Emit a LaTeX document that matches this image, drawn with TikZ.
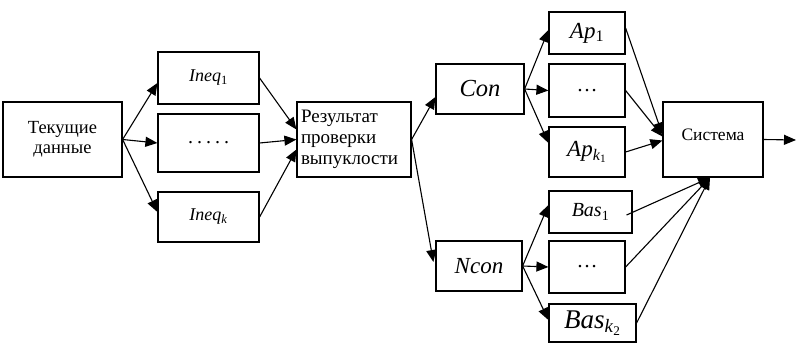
\documentclass[tikz,border=0pt]{standalone}
\usepackage{fontspec}
\setmainfont{Liberation Serif}
\usetikzlibrary{arrows.meta,calc}
\begin{document}
\begin{tikzpicture}[x=1pt,y=-1pt,
  box/.style={draw,line width=1.2pt,inner sep=0pt,align=center},
  arr/.style={line width=1.1pt,-{Triangle[length=12pt,width=10pt]}}]
\useasboundingbox (0,0) rectangle (796,343);
\newcommand{\sbs}[1]{\textsubscript{\upshape #1}}
% nodes
\node[box,minimum width=119pt,minimum height=75pt,font=\fontsize{18.5}{20}\selectfont] (td) at (62.5,139.5) {\raisebox{6pt}{\parbox{110pt}{\centering Текущие\\данные}}};
\node[box,minimum width=101pt,minimum height=52pt,font=\fontsize{18}{19}\selectfont] (i1) at (208.5,78) {\textit{Ineq}\sbs{1}};
\node[box,minimum width=101pt,minimum height=58pt,font=\fontsize{20}{20}\selectfont] (i2) at (208.5,143) {.\hspace{4pt}.\hspace{4pt}.\hspace{4pt}.\hspace{4pt}.};
\node[box,minimum width=101pt,minimum height=50pt,font=\fontsize{18}{19}\selectfont] (i3) at (208.5,217) {\textit{Ineq}\textsubscript{\textit{k}}};
\node[box,minimum width=114pt,minimum height=75pt,font=\fontsize{19}{21}\selectfont] (res) at (354,139.5) {\parbox{106pt}{\raggedright Результат\\проверки\\выпуклости}};
\node[box,minimum width=88pt,minimum height=50pt,font=\fontsize{24.5}{26}\selectfont] (con) at (480,89) {\textit{Con}};
\node[box,minimum width=86pt,minimum height=50pt,font=\fontsize{23}{25}\selectfont] (ncon) at (479,266) {\textit{Ncon}};
\node[box,minimum width=76pt,minimum height=42pt,font=\fontsize{23}{25}\selectfont] (ap1) at (587,33) {\textit{Ap}\sbs{1}};
\node[box,minimum width=76pt,minimum height=53pt,font=\fontsize{21}{21}\selectfont] (ap2) at (587,90.5) {\dots};
\node[box,minimum width=76pt,minimum height=50pt,font=\fontsize{23}{25}\selectfont] (ap3) at (587,152) {\textit{Ap}\textsubscript{\textit{k}\textsubscript{\upshape 1}}};
\node[box,minimum width=83pt,minimum height=42pt,font=\fontsize{20}{22}\selectfont] (b1) at (590.5,212) {\textit{Bas}\sbs{1}};
\node[box,minimum width=76pt,minimum height=52pt,font=\fontsize{21}{21}\selectfont] (b2) at (587,267) {\dots};
\node[box,minimum width=87pt,minimum height=38pt,font=\fontsize{27}{28}\selectfont] (b3) at (592.5,323) {\textit{Bas}\textsubscript{\textit{k}\textsubscript{\upshape 2}}};
\node[box,minimum width=100pt,minimum height=75pt,font=\fontsize{17.5}{19}\selectfont] (sys) at (713,139.5) {\raisebox{9pt}{Система}};
\coordinate (out) at (796,140);
% connectors
\draw[arr] (td.east) -- ($(i1.west)+(0,5)$);
\draw[arr] (td.east) -- (i2.west);
\draw[arr] (td.east) -- ($(i3.west)+(0,-5)$);
\draw[arr] (i1.east) -- ($(res.west)+(0,-10)$);
\draw[arr] (i2.east) -- ($(res.west)+(0,0)$);
\draw[arr] (i3.east) -- ($(res.west)+(0,10)$);
\draw[arr] (res.east) -- ($(con.west)+(0,8)$);
\draw[arr] (res.east) -- ($(ncon.west)+(-2,-4)$);
\draw[arr] (con.east) -- ($(ap1.west)+(0,-3)$);
\draw[arr] (con.east) -- (ap2.west);
\draw[arr] (con.east) -- ($(ap3.west)+(0,-9)$);
\draw[arr] (ncon.east) -- ($(b1.west)+(0,-7)$);
\draw[arr] (ncon.east) -- (b2.west);
\draw[arr] (ncon.east) -- ($(b3.west)+(0,-3)$);
\draw[arr] ($(ap1.east)+(0,-5)$) -- ($(sys.west)+(0,-5)$);
\draw[arr] (ap2.east) -- ($(sys.west)+(0,-3)$);
\draw[arr] (ap3.east) -- ($(sys.west)+(0,1)$);
\draw[arr] ($(b1.east)+(-6,3)$) -- ($(sys.south)+(-3,0)$);
\draw[arr] (b2.east) -- ($(sys.south)+(-3,0)$);
\draw[arr] (b3.east) -- ($(sys.south)+(-3,0)$);
\draw[arr] (sys.east) -- (out);
\end{tikzpicture}
\end{document}
